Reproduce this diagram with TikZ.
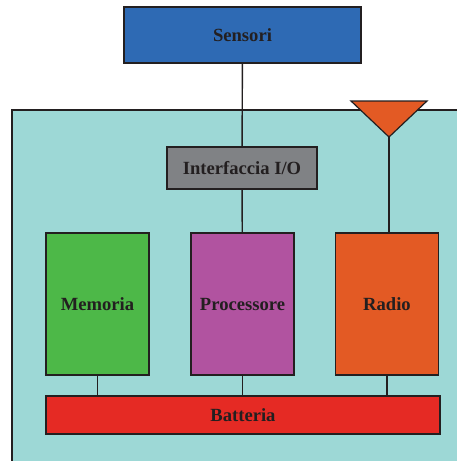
\documentclass[tikz,border=0pt]{standalone}
\usepackage{fontspec}
\setmainfont{Liberation Serif}
\usetikzlibrary{positioning,calc}

\definecolor{sensblue}{HTML}{2E6AB4}
\definecolor{iogray}{HTML}{808285}
\definecolor{memgreen}{HTML}{4DB848}
\definecolor{procpurple}{HTML}{B153A0}
\definecolor{radorange}{HTML}{E35A24}
\definecolor{batred}{HTML}{E52A24}
\definecolor{nodeteal}{HTML}{9DD8D6}
\definecolor{inkdark}{HTML}{231F20}

\tikzset{
    unit/.style={draw=inkdark, line width=1.4pt, text=inkdark,
        font=\fontsize{18.6}{20}\selectfont\bfseries, inner sep=0pt},
    wire/.style={draw=inkdark, line width=1.4pt}
}

\begin{document}
\begin{tikzpicture}[x=1pt, y=-1pt]
    \useasboundingbox (0,0) rectangle (456,461);

    % Node body
    \draw[fill=nodeteal, draw=inkdark, line width=1.4pt] (12,110) rectangle (480,490);

    \node[unit, fill=sensblue, minimum width=237pt, minimum height=56pt] (sens) at (242.5,35) {Sensori};
    \node[unit, fill=iogray, minimum width=150pt, minimum height=42pt] (io) at (242,168) {Interfaccia I/O};

    \node[unit, fill=memgreen, minimum width=103pt, minimum height=142pt] (mem) at (97.5,304) {Memoria};
    \node[unit, fill=procpurple, minimum width=103pt, minimum height=142pt] (proc) at (242.5,304) {Processore};
    \node[unit, fill=radorange, minimum width=103pt, minimum height=142pt] (rad) at (387,304) {Radio};

    \node[unit, fill=batred, minimum width=394pt, minimum height=38pt] (bat) at (243,415) {Batteria};

    % Antenna
    \coordinate (ant) at (389,137);
    \draw[fill=radorange, draw=inkdark, line width=1.2pt, line join=miter]
        (351,101) -- (427,101) -- (ant) -- cycle;

    \draw[wire] (sens) -- (io);
    \draw[wire] (io) -- (proc);
    \draw[wire] (ant) -- (ant |- rad.north);

    \draw[wire] (mem) -- (mem |- bat.north);
    \draw[wire] (proc) -- (proc |- bat.north);
    \draw[wire] (rad) -- (rad |- bat.north);
\end{tikzpicture}
\end{document}
